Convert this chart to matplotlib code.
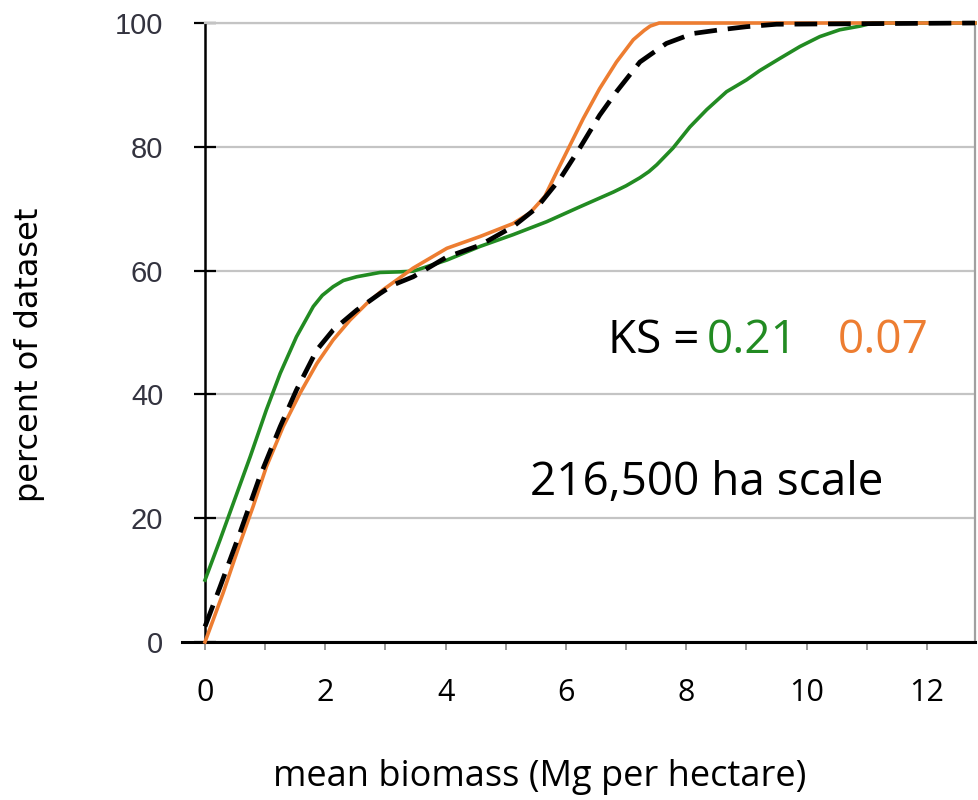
import matplotlib
matplotlib.use("Agg")
import matplotlib.pyplot as plt

# valores (biomasa media, porcentaje acumulado)
green_x = [0, 0.25, 0.47, 0.75, 1.02, 1.25, 1.52, 1.80, 1.95, 2.13, 2.30, 2.52, 2.91, 3.24,
           3.46, 4.02, 4.57, 5.12, 5.68, 6.23, 6.79, 7.0, 7.23, 7.38, 7.51, 7.78, 8.06,
           8.34, 8.67, 9.0, 9.22, 9.56, 9.89, 10.22, 10.55, 10.89, 11.1, 12.8]
green_y = [10, 16.5, 22.4, 29.9, 37.5, 43.4, 49.3, 54.2, 56.0, 57.4, 58.4, 59.0, 59.7, 59.8,
           59.9, 61.7, 63.9, 65.8, 67.9, 70.3, 72.7, 73.7, 75.0, 76.0, 77.1, 79.8, 83.2,
           86.0, 88.9, 90.8, 92.3, 94.3, 96.2, 97.8, 98.9, 99.5, 100, 100]

orange_x = [0, 0.30, 0.58, 0.80, 1.02, 1.30, 1.58, 1.86, 2.13, 2.41, 2.69, 2.96, 3.19,
            3.46, 4.02, 4.57, 5.12, 5.40, 5.65, 5.85, 6.07, 6.29, 6.56, 6.84, 7.12,
            7.30, 7.40, 7.55, 12.8]
orange_y = [0, 7.9, 15.9, 21.9, 28.3, 34.8, 40.2, 45.0, 48.8, 52.0, 54.7, 56.9, 58.5,
            60.4, 63.6, 65.5, 67.6, 69.3, 72.0, 76.0, 80.3, 84.6, 89.4, 93.7, 97.3,
            98.8, 99.5, 100, 100]

ref_x = [0, 0.25, 0.58, 0.91, 1.25, 1.52, 1.86, 2.13, 2.52, 2.91, 3.13, 3.46, 4.02,
         4.57, 5.12, 5.51, 5.90, 6.23, 6.56, 6.84, 7.23, 7.67, 8.11, 8.56, 9.0, 9.5, 12.8]
ref_y = [2.5, 8.9, 17.6, 26.7, 34.8, 40.7, 47.2, 50.4, 53.6, 56.3, 57.7, 59.0, 62.2,
         64.1, 67.1, 70.1, 74.8, 79.8, 85.1, 88.9, 93.7, 96.7, 98.3, 98.9, 99.4, 99.8, 100]

x_ticks = [0, 2, 4, 6, 8, 10, 12]
y_ticks = [0, 20, 40, 60, 80, 100]
ks_green = "0.21"
ks_orange = "0.07"
scale_label = "216,500 ha scale"

GREEN = "#228B22"
ORANGE = "#ED7D31"

fig = plt.figure(figsize=(9.79, 8.0), dpi=100)
ax = fig.add_axes([205 / 979, 158 / 800, 770 / 979, 619 / 800])

ax.plot(green_x, green_y, color=GREEN, lw=2.6, clip_on=False, zorder=3,
        solid_joinstyle="round")
ax.plot(orange_x, orange_y, color=ORANGE, lw=2.6, clip_on=False, zorder=4,
        solid_joinstyle="round")
ax.plot(ref_x, ref_y, color="black", lw=3.4, dashes=(4.8, 2.3), clip_on=False, zorder=5,
        dash_joinstyle="round")

ax.set_xlim(0, 12.8)
ax.set_ylim(0, 100)

ax.set_yticks(y_ticks)
ax.set_xticks(x_ticks)
ax.set_xticks(range(0, 13), minor=True)
ax.grid(axis="y", color="#c4c4c4", lw=1.6, zorder=1)
ax.set_axisbelow(True)

ax.tick_params(axis="y", direction="inout", length=16, width=1.6, color="black",
               pad=22, labelsize=21, labelcolor="#33333f")
ax.tick_params(axis="x", which="both", direction="out", length=6, width=1.2,
               color="#888888", pad=20, labelsize=22)
for lab in ax.get_yticklabels():
    lab.set_fontfamily("Liberation Sans")
for lab in ax.get_xticklabels():
    lab.set_fontfamily("Open Sans")

ax.spines["left"].set_color("black")
ax.spines["left"].set_linewidth(1.8)
ax.spines["bottom"].set_color("black")
ax.spines["bottom"].set_linewidth(2.2)
ax.spines["bottom"].set_bounds(-0.38, 12.8)
ax.spines["top"].set_color("#c4c4c4")
ax.spines["top"].set_linewidth(1.6)
ax.spines["right"].set_color("#a0a0a0")
ax.spines["right"].set_linewidth(1.6)

ax.text(6.70, 46.7, "KS =", fontsize=33, family="Open Sans", va="baseline", color="black")
ax.text(8.34, 46.7, ks_green, fontsize=33, family="Open Sans", va="baseline", color=GREEN)
ax.text(10.52, 46.7, ks_orange, fontsize=33, family="Open Sans", va="baseline", color=ORANGE)
ax.text(5.40, 23.7, scale_label, fontsize=33, family="Open Sans", va="baseline", color="black")

fig.text(540 / 979, 1 - 777 / 800, "mean biomass (Mg per hectare)", ha="center", va="center",
         fontsize=26, family="Open Sans")
fig.text(30 / 979, 1 - 355 / 800, "percent of dataset", ha="center", va="center",
         rotation=90, fontsize=23, family="DejaVu Sans")

fig.savefig("out.png", dpi=100)
